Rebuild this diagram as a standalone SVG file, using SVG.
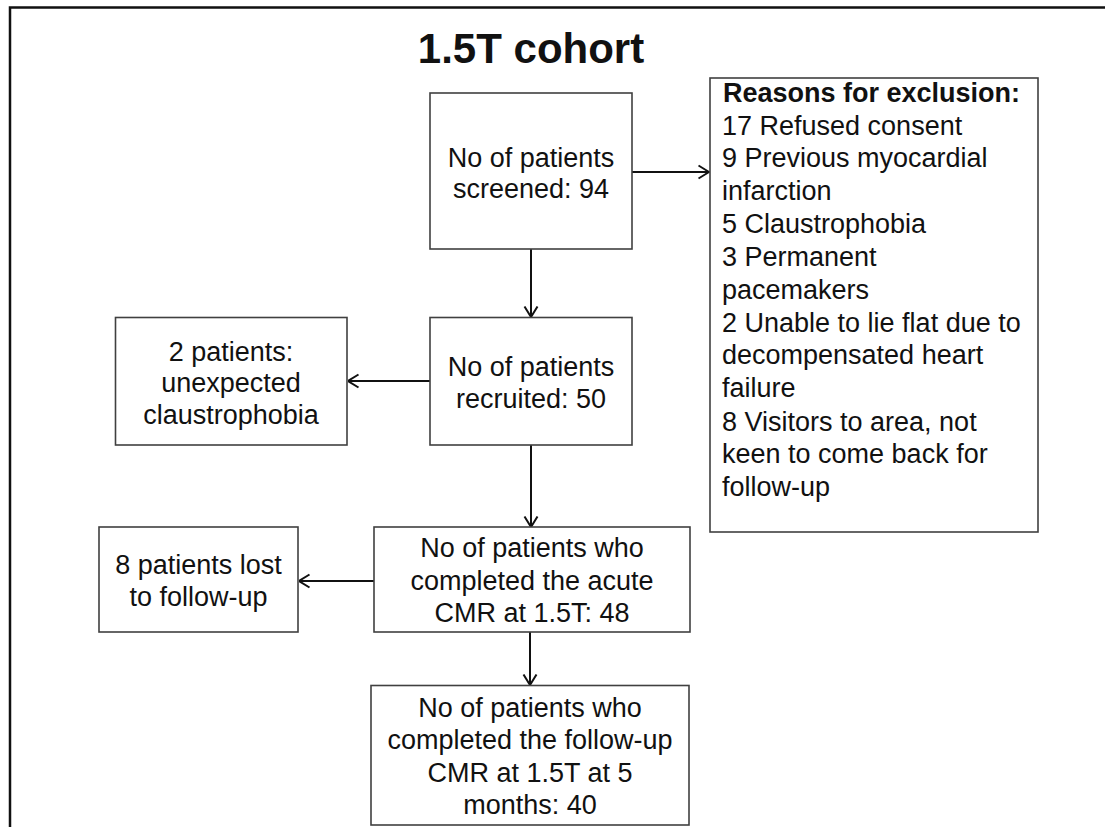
<svg xmlns="http://www.w3.org/2000/svg" width="1105" height="827" viewBox="0 0 1105 827">
<defs>
<style>
.box{fill:#fff;stroke:#404040;stroke-width:1.6}
.t{font-family:"Liberation Sans",Arial,sans-serif;font-size:27px;fill:#111}
.c{text-anchor:middle}
.b{font-weight:bold}
.conn{stroke:#111;stroke-width:2;fill:none;marker-end:url(#arr)}
</style>
<marker id="arr" viewBox="0 0 12 16" refX="11.5" refY="8" markerWidth="12" markerHeight="16" markerUnits="userSpaceOnUse" orient="auto">
<path d="M1,1.5 L11.5,8 L1,14.5" fill="none" stroke="#111" stroke-width="2"/>
</marker>
</defs>
<rect width="1105" height="827" fill="#fff"/>
<path d="M10,828 V7.5 H1106" fill="none" stroke="#111" stroke-width="2.5"/>
<text id="title" class="t c b" x="531" y="63" style="font-size:42px">1.5T cohort</text>
<g id="connectors">
<line class="conn" x1="632" y1="172" x2="709" y2="172"/>
<line class="conn" x1="531" y1="249" x2="531" y2="317"/>
<line class="conn" x1="430" y1="381" x2="348" y2="381"/>
<line class="conn" x1="531" y1="445" x2="531" y2="527"/>
<line class="conn" x1="374" y1="581" x2="299" y2="581"/>
<line class="conn" x1="530" y1="632" x2="530" y2="685"/>
</g>
<g id="screened">
<rect class="box" x="430" y="93" width="202" height="156"/>
<text class="t c" x="531" y="167">No of patients</text>
<text class="t c" x="531" y="198">screened: 94</text>
</g>
<g id="reasons">
<rect class="box" x="710" y="78" width="328" height="454"/>
<text class="t b" x="723" y="102">Reasons for exclusion:</text>
<text class="t" x="722" y="134.5">17 Refused consent</text>
<text class="t" x="722" y="167">9 Previous myocardial</text>
<text class="t" x="722" y="200">infarction</text>
<text class="t" x="722" y="233">5 Claustrophobia</text>
<text class="t" x="722" y="265.5">3 Permanent</text>
<text class="t" x="722" y="298.5">pacemakers</text>
<text class="t" x="722" y="331.5">2 Unable to lie flat due to</text>
<text class="t" x="722" y="364">decompensated heart</text>
<text class="t" x="722" y="397">failure</text>
<text class="t" x="722" y="430.5">8 Visitors to area, not</text>
<text class="t" x="722" y="463">keen to come back for</text>
<text class="t" x="722" y="496">follow-up</text>
</g>
<g id="claustro">
<rect class="box" x="115.5" y="317.5" width="231.5" height="127.5"/>
<text class="t c" x="231" y="360.5">2 patients:</text>
<text class="t c" x="231" y="392">unexpected</text>
<text class="t c" x="231" y="424">claustrophobia</text>
</g>
<g id="recruited">
<rect class="box" x="430" y="317.5" width="202" height="127.5"/>
<text class="t c" x="531" y="375.5">No of patients</text>
<text class="t c" x="531" y="407.5">recruited: 50</text>
</g>
<g id="lost">
<rect class="box" x="99" y="527" width="199" height="105"/>
<text class="t c" x="198.5" y="574">8 patients lost</text>
<text class="t c" x="198.5" y="606">to follow-up</text>
</g>
<g id="acute">
<rect class="box" x="374" y="527" width="316" height="105"/>
<text class="t c" x="532" y="557">No of patients who</text>
<text class="t c" x="532" y="590">completed the acute</text>
<text class="t c" x="532" y="622">CMR at 1.5T: 48</text>
</g>
<g id="followup">
<rect class="box" x="371" y="685.5" width="318" height="139.5"/>
<text class="t c" x="530" y="717">No of patients who</text>
<text class="t c" x="530" y="749">completed the follow-up</text>
<text class="t c" x="530" y="781.5">CMR at 1.5T at 5</text>
<text class="t c" x="530" y="814">months: 40</text>
</g>
</svg>
